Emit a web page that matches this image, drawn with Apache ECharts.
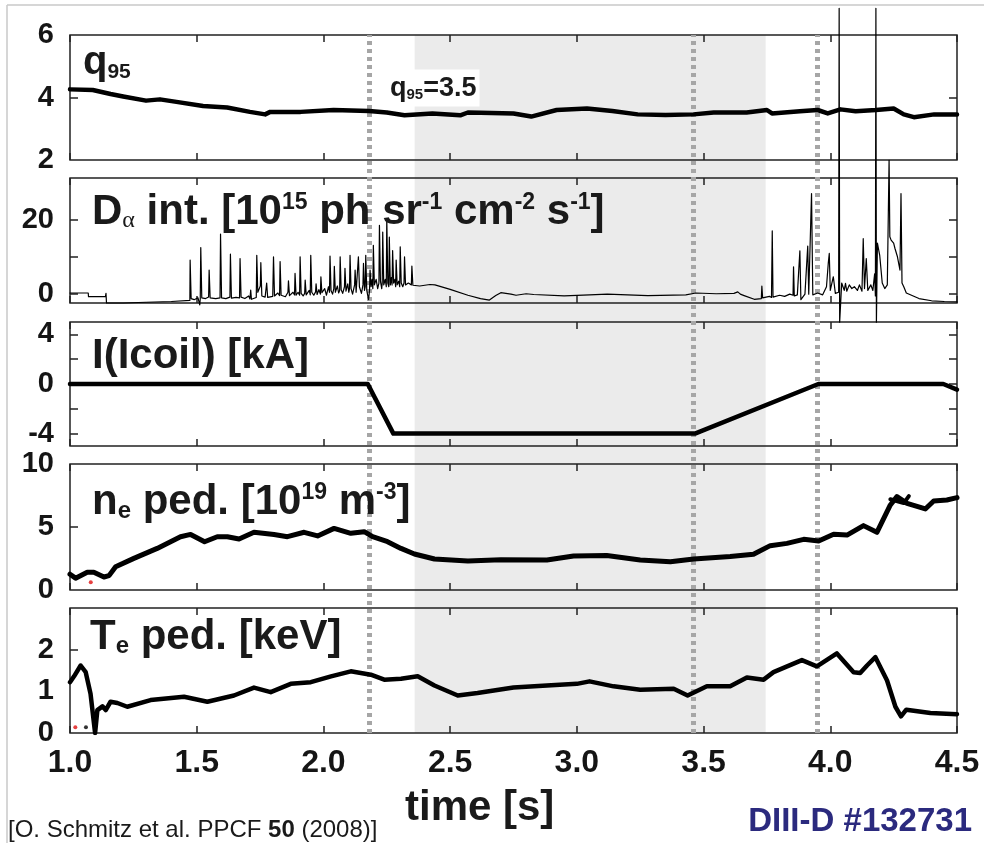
<!DOCTYPE html>
<html lang="en">
<head>
  <meta charset="UTF-8">
  <title>DIII-D #132731</title>
  <script src="https://cdn.jsdelivr.net/npm/echarts@6/dist/echarts.min.js"></script>
  <style>html, body { margin: 0; padding: 0; background: #fff; }</style>
</head>
<body>
<div id="main" style="width: 984px;height:843px;"></div>
<script type="text/javascript">
    // ---- data ----
    // q95
    var tQ = [1.0, 1.09, 1.16, 1.21, 1.30, 1.355, 1.42, 1.525, 1.62, 1.71, 1.77, 1.79, 1.91, 2.04, 2.18, 2.25, 2.32, 2.43, 2.54, 2.57,
        2.62, 2.75, 2.82, 2.92, 3.04, 3.14, 3.24, 3.35, 3.46, 3.54, 3.67, 3.75, 3.77, 3.88, 3.95, 3.99, 4.04, 4.10, 4.18, 4.25,
        4.29, 4.33, 4.41, 4.5];
    var vQ = [4.26, 4.24, 4.11, 4.03, 3.90, 3.94, 3.86, 3.73, 3.68, 3.54, 3.46, 3.54, 3.54, 3.60, 3.57, 3.52, 3.43, 3.49, 3.43, 3.52,
        3.51, 3.49, 3.39, 3.60, 3.65, 3.57, 3.46, 3.44, 3.46, 3.52, 3.52, 3.60, 3.49, 3.56, 3.60, 3.49, 3.62, 3.56, 3.60, 3.65,
        3.46, 3.37, 3.46, 3.46];

    // D-alpha intensity [time, value]
    var dalphaPts = [
        [1.000, 0.3], [1.072, 0.3], [1.073, -0.7], [1.131, -0.7], [1.140, -0.6], [1.142, 0.2], [1.144, -2.4], [1.21, -2.4],
        [1.30, -2.2], [1.40, -2.0], [1.473, -1.7], [1.474, 9.2], [1.478, -1.2], [1.49, -1.5], [1.505, -1.0], [1.512, -2.9],
        [1.514, -1.2], [1.516, 12.6], [1.520, -1.0], [1.535, -1.2], [1.547, -0.8], [1.549, 6.5], [1.553, -1.0], [1.575, -1.2],
        [1.592, -1.0], [1.594, 16.2], [1.598, -1.0], [1.615, -1.2], [1.631, -0.8], [1.633, 10.8], [1.637, -1.1], [1.655, -0.9],
        [1.669, -1.0], [1.671, 9.6], [1.675, -0.8], [1.69, -1.2], [1.705, -0.5], [1.710, -1.3], [1.713, 1.1], [1.716, -1.4],
        [1.735, -0.9], [1.737, 10.5], [1.741, 0.5], [1.751, 2.2], [1.753, 8.5], [1.757, -0.5], [1.770, -0.8], [1.776, 3.0],
        [1.780, -0.9], [1.800, -0.6], [1.803, 10.1], [1.807, -0.5], [1.820, 0.3], [1.827, -0.4], [1.829, 8.8], [1.833, -0.3],
        [1.850, -0.7], [1.860, 0.5], [1.862, 3.6], [1.866, -0.4], [1.880, 0.5], [1.886, -0.2], [1.888, 5.6], [1.892, -0.3],
        [1.900, 0.5], [1.906, -0.3], [1.908, 10.1], [1.912, 0.2], [1.920, -0.5], [1.926, 0.2], [1.928, 3.8], [1.932, -0.2],
        [1.944, 1.0], [1.948, -0.2], [1.950, 10.5], [1.954, 0.5], [1.962, -0.3], [1.969, 0.6], [1.971, 2.8], [1.975, -0.1],
        [1.982, 1.2], [1.988, 0.0], [1.990, 4.7], [1.994, 0.4], [2.005, 1.5], [2.012, -0.3], [2.020, 2.0], [2.024, 0.5],
        [2.026, 10.3], [2.030, 1.0], [2.036, 0.0], [2.041, 1.5], [2.043, 7.5], [2.047, 0.5], [2.055, 2.2], [2.060, 0.3],
        [2.064, 1.0], [2.066, 10.1], [2.070, 1.2], [2.076, 0.2], [2.083, 2.0], [2.085, 7.0], [2.089, 0.8], [2.096, 2.8],
        [2.100, 0.5], [2.103, 1.5], [2.105, 10.5], [2.109, 1.5], [2.115, 0.0], [2.123, 2.5], [2.125, 6.5], [2.129, 0.5],
        [2.136, 1.0], [2.138, 10.1], [2.142, 2.0], [2.150, 0.2], [2.156, 2.5], [2.158, 8.3], [2.162, 1.0], [2.165, 2.0],
        [2.167, 10.5], [2.171, 1.0], [2.178, -1.5], [2.182, 1.0], [2.184, 6.5], [2.188, 2.0], [2.192, 4.0], [2.195, 1.5],
        [2.197, 13.2], [2.201, 2.5], [2.208, 4.0], [2.214, 1.5], [2.219, 3.0], [2.221, 18.6], [2.225, 3.5], [2.230, 1.5],
        [2.232, 3.0], [2.234, 16.8], [2.238, 2.5], [2.244, 4.0], [2.248, 2.0], [2.250, 20.4], [2.254, 3.0], [2.258, 2.0],
        [2.260, 15.4], [2.264, 2.5], [2.268, 4.5], [2.271, 2.5], [2.273, 11.8], [2.277, 3.0], [2.282, 4.0], [2.285, 2.0],
        [2.287, 9.2], [2.291, 2.5], [2.297, 3.5], [2.301, 2.0], [2.303, 12.8], [2.307, 3.0], [2.313, 2.0], [2.318, 3.0],
        [2.320, 10.1], [2.324, 2.5], [2.335, 3.0], [2.347, 2.5], [2.349, 7.6], [2.353, 2.4], [2.38, 2.2], [2.42, 2.6],
        [2.44, 2.5], [2.50, 1.3], [2.57, -0.3], [2.62, -1.2], [2.655, -1.6], [2.68, -0.4], [2.70, 0.4], [2.74, 0.0],
        [2.76, -0.3], [2.80, 0.1], [2.83, -0.1], [2.95, -0.5], [3.05, -0.2], [3.12, 0.0], [3.20, -0.2], [3.28, -0.4],
        [3.43, -0.2], [3.47, 0.3], [3.55, 0.1], [3.62, 0.2], [3.635, 0.6], [3.645, 0.0], [3.66, -0.4], [3.70, -1.4],
        [3.728, -1.2], [3.73, 2.2], [3.733, -1.0], [3.76, -0.6], [3.768, -0.9], [3.771, 17.1], [3.774, -0.8], [3.80, -0.3],
        [3.82, -0.6], [3.84, 0.0], [3.853, -0.3], [3.855, 7.4], [3.858, -0.5], [3.87, -0.2], [3.88, 11.7], [3.884, -1.5],
        [3.90, 0.0], [3.911, 13.0], [3.915, 0.0], [3.926, 27.2], [3.931, -0.2], [3.95, 0.3], [3.97, -0.2], [3.985, 2.0],
        [3.992, 8.3], [3.996, 11.0], [4.0, 1.0], [4.012, 4.7], [4.02, 0.2], [4.033, 0.5], [4.035, 77.3], [4.037, -7.6],
        [4.045, 3.0], [4.055, 1.0], [4.06, 2.9], [4.065, 0.8], [4.075, 2.5], [4.085, 1.5], [4.095, 2.0], [4.107, 1.0],
        [4.115, 2.5], [4.125, 0.8], [4.13, 15.0], [4.135, 1.5], [4.142, 9.6], [4.148, 1.0], [4.16, 2.5], [4.168, 1.0],
        [4.175, 5.5], [4.178, -0.5], [4.180, 77.3], [4.182, -7.6], [4.186, 13.8], [4.195, 10.5], [4.205, 3.0], [4.215, 1.5],
        [4.225, 2.5], [4.232, 36.2], [4.235, 15.5], [4.24, 14.6], [4.25, 13.8], [4.255, 12.4], [4.265, 10.1], [4.275, 6.5],
        [4.279, 27.2], [4.283, 3.0], [4.29, 2.0], [4.30, 0.3], [4.35, -1.2], [4.40, -1.8], [4.45, -2.0], [4.5, -2.1]
    ];

    // I-coil current
    var tI = [1.0, 2.175, 2.276, 3.466, 3.953, 4.446, 4.5];
    var vI = [0, 0, -4, -4, 0, 0, -0.45];

    // pedestal density
    var tN = [1.0, 1.022, 1.068, 1.094, 1.134, 1.154, 1.18, 1.252, 1.344, 1.436, 1.476, 1.531, 1.581, 1.621, 1.667, 1.726,
        1.805, 1.858, 1.924, 1.977, 2.042, 2.108, 2.161, 2.194, 2.253, 2.306, 2.359, 2.438, 2.57, 2.70, 2.882, 2.987, 3.118,
        3.25, 3.369, 3.461, 3.605, 3.697, 3.763, 3.829, 3.895, 3.954, 4.013, 4.066, 4.131, 4.184, 4.237, 4.263, 4.303,
        4.375, 4.408, 4.46, 4.5];
    var vN = [1.25, 0.94, 1.41, 1.41, 1.03, 1.14, 1.85, 2.51, 3.30, 4.23, 4.41, 3.83, 4.23, 4.23, 4.05, 4.58, 4.41, 4.23,
        4.58, 4.29, 4.89, 4.50, 4.63, 4.23, 3.83, 3.30, 2.86, 2.46, 2.30, 2.40, 2.38, 2.70, 2.73, 2.38, 2.25, 2.46, 2.65,
        2.83, 3.52, 3.70, 4.02, 3.89, 4.42, 4.36, 5.11, 4.58, 6.75, 7.41, 6.88, 6.43, 7.06, 7.14, 7.33];
    var tN2 = [4.237, 4.29, 4.31];
    var vN2 = [7.20, 6.90, 7.45];
    var neDotRed = [[1.082, 0.61]];

    // pedestal temperature
    var tT = [1.0, 1.016, 1.042, 1.062, 1.081, 1.099, 1.108, 1.128, 1.141, 1.16, 1.187, 1.226, 1.318, 1.45, 1.542, 1.647,
        1.726, 1.792, 1.871, 1.95, 2.03, 2.108, 2.187, 2.24, 2.306, 2.372, 2.438, 2.53, 2.608, 2.75, 2.882, 3.0, 3.05, 3.145,
        3.25, 3.382, 3.437, 3.513, 3.605, 3.671, 3.737, 3.776, 3.888, 3.947, 4.026, 4.092, 4.118, 4.145, 4.178, 4.224,
        4.257, 4.279, 4.30, 4.395, 4.5];
    var vT = [1.22, 1.36, 1.62, 1.46, 0.94, 0.0, 0.55, 0.64, 0.55, 0.75, 0.72, 0.63, 0.79, 0.87, 0.75, 0.90, 1.09, 0.98,
        1.18, 1.22, 1.36, 1.48, 1.40, 1.28, 1.30, 1.36, 1.14, 0.90, 0.96, 1.09, 1.14, 1.18, 1.24, 1.12, 1.04, 1.06, 0.90,
        1.12, 1.12, 1.33, 1.28, 1.46, 1.75, 1.60, 1.91, 1.46, 1.44, 1.62, 1.82, 1.26, 0.63, 0.40, 0.56, 0.48, 0.45];
    var teDotRed = [[1.021, 0.14]];
    var teDotBlack = [[1.063, 0.14]];

    // time markers and the shaded window
    var markTimes = [2.184, 3.463, 3.952];
    var shadeWindow = [2.36, 3.745];

    // tick labels
    var xTicks = [1.0, 1.5, 2.0, 2.5, 3.0, 3.5, 4.0, 4.5];
    var yLabelsQ = [2, 4, 6];
    var yLabelsD = [0, 20];
    var yLabelsI = [-4, 0, 4];
    var yLabelsN = [0, 5, 10];
    var yLabelsT = [0, 1, 2];

    function zip(t, v) {
        return t.map(function (x, i) { return [x, v[i]]; });
    }

    // ---- layout ----
    var FONT = 'Arial, "Liberation Sans", sans-serif';
    var panels = [
        { top: 35, height: 125, min: 2, max: 6, labels: yLabelsQ, tickL: [4], tickR: [4] },
        { top: 178, height: 125, min: -2.4, max: 31.4, labels: yLabelsD, tickL: [0, 10, 20], tickR: [0, 10, 20] },
        { top: 322, height: 124, min: -5, max: 5, labels: yLabelsI, tickL: [-4, -2, 0, 2, 4], tickR: [-4, -2, 0, 2, 4] },
        { top: 464, height: 126, min: 0, max: 10, labels: yLabelsN, tickL: [5], tickR: [] },
        { top: 608, height: 125, min: 0, max: 3, labels: yLabelsT, tickL: [2], tickR: [] }
    ];

    var grid = [], xAxis = [], yAxis = [];
    panels.forEach(function (p, i) {
        grid.push({
            left: 70, right: 27, top: p.top, height: p.height,
            show: true, borderColor: '#222', borderWidth: 1.5, backgroundColor: 'transparent', z: 3
        });
        // bottom + top x axes (ticks pointing inward)
        xAxis.push({
            type: 'value', gridIndex: i, min: 1, max: 4.5, interval: 0.5, z: 3,
            axisLine: { show: false, onZero: false },
            axisTick: { show: true, inside: true, length: 7, lineStyle: { color: '#222', width: 1.5 } },
            axisLabel: {
                show: i === 4, margin: 14, color: '#151515', fontSize: 32, fontWeight: 'bold', fontFamily: FONT,
                customValues: xTicks,
                formatter: function (v) { return v.toFixed(1); }
            },
            splitLine: { show: false }
        });
        xAxis.push({
            type: 'value', gridIndex: i, position: 'top', min: 1, max: 4.5, interval: 0.5, z: 3,
            axisLine: { show: false, onZero: false },
            axisTick: { show: true, inside: true, length: 7, lineStyle: { color: '#222', width: 1.5 } },
            axisLabel: { show: false },
            splitLine: { show: false }
        });
        yAxis.push({
            type: 'value', gridIndex: i, min: p.min, max: p.max, z: 3,
            axisLine: { show: false, onZero: false },
            axisTick: { show: true, inside: true, length: 8, customValues: p.tickL, lineStyle: { color: '#222', width: 1.5 } },
            axisLabel: {
                margin: 16, color: '#151515', fontSize: 29, fontWeight: 'bold', fontFamily: FONT,
                customValues: p.labels
            },
            splitLine: { show: false }
        });
        yAxis.push({
            type: 'value', gridIndex: i, position: 'right', min: p.min, max: p.max, z: 3,
            axisLine: { show: false, onZero: false },
            axisTick: { show: p.tickR.length > 0, inside: true, length: 8, customValues: p.tickR, lineStyle: { color: '#222', width: 1.5 } },
            axisLabel: { show: false },
            splitLine: { show: false }
        });
    });
    // background grid spanning all panels: shaded window + dotted markers
    grid.push({ left: 70, right: 27, top: 35, bottom: 110, show: false });
    xAxis.push({ type: 'value', gridIndex: 5, min: 1, max: 4.5, show: false });
    yAxis.push({ type: 'value', gridIndex: 5, min: 0, max: 1, show: false });

    function lineSeries(idx, data, width, extra) {
        var s = {
            type: 'line', xAxisIndex: idx * 2, yAxisIndex: idx * 2, data: data,
            showSymbol: false, symbol: 'none', z: 5,
            lineStyle: { color: '#000', width: width, join: 'round', cap: 'round' }
        };
        for (var k in extra) s[k] = extra[k];
        return s;
    }

    var series = [
        {
            type: 'line', xAxisIndex: 10, yAxisIndex: 10, data: [], z: 0, silent: true,
            markArea: {
                silent: true,
                itemStyle: { color: '#ebebeb' },
                data: [[{ xAxis: shadeWindow[0] }, { xAxis: shadeWindow[1] }]]
            }
        },
        lineSeries(0, zip(tQ, vQ), 4.5),
        lineSeries(1, dalphaPts, 1.2, { clip: false }),
        lineSeries(2, zip(tI, vI), 4.5),
        lineSeries(3, zip(tN, vN), 5),
        lineSeries(3, zip(tN2, vN2), 4),
        lineSeries(4, zip(tT, vT), 4.5),
        { type: 'scatter', xAxisIndex: 6, yAxisIndex: 6, data: neDotRed, symbolSize: 4, itemStyle: { color: '#e01010' }, z: 6 },
        { type: 'scatter', xAxisIndex: 8, yAxisIndex: 8, data: teDotRed, symbolSize: 4, itemStyle: { color: '#e01010' }, z: 6 },
        { type: 'scatter', xAxisIndex: 8, yAxisIndex: 8, data: teDotBlack, symbolSize: 4, itemStyle: { color: '#000' }, z: 6 },
        {
            type: 'line', xAxisIndex: 10, yAxisIndex: 10, data: [], z: 10, silent: true,
            markLine: {
                silent: true, symbol: ['none', 'none'], label: { show: false },
                lineStyle: { color: '#a6a6a6', width: 5, type: [4, 4], opacity: 1 },
                emphasis: { disabled: true },
                data: markTimes.map(function (t) { return { xAxis: t }; })
            }
        }
    ];

    // panel titles and annotations
    var big = { fontSize: 42, fontWeight: 'bold', fontFamily: FONT, fill: '#1a1a1a' };
    function tok(o) { var r = {}; for (var k in big) r[k] = big[k]; for (var j in o) r[j] = o[j]; return r; }
    var sup = tok({ fontSize: 23, verticalAlign: 'top' });
    var sub = tok({ fontSize: 24, verticalAlign: 'bottom' });

    function label(x, y, text, rich, extra) {
        var st = { text: text, rich: rich, x: 0, y: 0, align: 'left', verticalAlign: 'middle',
            textAlign: 'left', textVerticalAlign: 'middle', fill: '#1a1a1a' };
        for (var k in extra) st[k] = extra[k];
        return { type: 'text', x: x, y: y, z: 20, style: st };
    }

    var graphic = [
        { type: 'line', shape: { x1: 7, y1: 5, x2: 984, y2: 5 }, style: { stroke: '#c8c8c8', lineWidth: 1.5 }, z: 1 },
        { type: 'line', shape: { x1: 7, y1: 5, x2: 7, y2: 843 }, style: { stroke: '#c8c8c8', lineWidth: 1.5 }, z: 1 },
        label(83, 63, '{m|q}{s|95}', { m: tok({ fontSize: 40 }), s: tok({ fontSize: 21, verticalAlign: 'bottom' }) }),
        label(387, 88, '{m|q}{s|95}{m|=3.5}',
            { m: tok({ fontSize: 27 }), s: tok({ fontSize: 15, verticalAlign: 'bottom' }) },
            { backgroundColor: '#fff', padding: [6, 3, 4, 3] }),
        label(92, 212, '{m|D}{a|α}{m| int. [10}{p|15}{m| ph sr}{p|-1}{m| cm}{p|-2}{m| s}{p|-1}{m|]}',
            { m: big, p: sup, a: tok({ fontSize: 24, fontWeight: 'normal', fontFamily: '"Liberation Serif", serif', verticalAlign: 'bottom' }) }),
        label(92, 356, '{m|I(Icoil) [kA]}', { m: big }),
        label(92, 502, '{m|n}{s|e}{m| ped. [10}{p|19}{m| m}{p|-3}{m|]}', { m: big, s: sub, p: sup }),
        label(90, 637, '{m|T}{s|e}{m| ped. [keV]}', { m: big, s: sub }),
        label(405, 808, '{m|time [s]}', { m: big }),
        label(8, 830, '{n|[O. Schmitz et al. PPCF }{b|50}{n| (2008)]}', {
            n: { fontSize: 24, fontFamily: FONT, fill: '#1a1a1a' },
            b: { fontSize: 24, fontFamily: FONT, fontWeight: 'bold', fill: '#1a1a1a' }
        }),
        label(972, 822, '{m|DIII-D #132731}', { m: tok({ fontSize: 33, fill: '#2b2a7e' }) },
            { align: 'right', textAlign: 'right' })
    ];

    var myChart = echarts.init(document.getElementById('main'));
    myChart.setOption({
        animation: false,
        backgroundColor: '#fff',
        grid: grid,
        xAxis: xAxis,
        yAxis: yAxis,
        series: series,
        graphic: graphic
    });
</script>
</body>
</html>
